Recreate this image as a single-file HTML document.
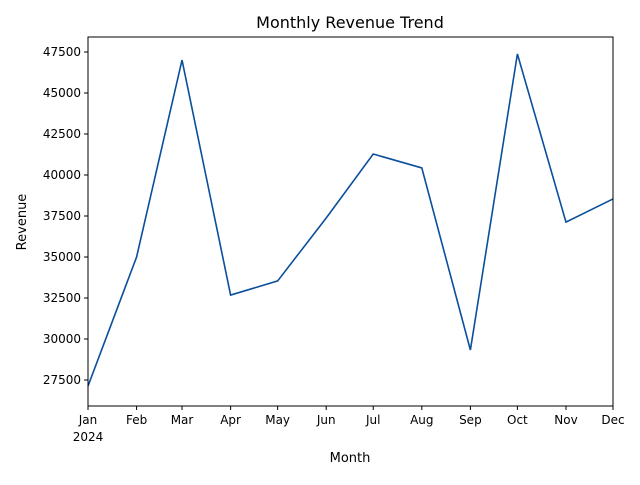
<!DOCTYPE html>
<html><head><meta charset="utf-8"><style>
body{margin:0;background:#fff;}
svg text{font-family:"DejaVu Sans","Liberation Sans",sans-serif;fill:#000;}
</style></head><body>
<svg width="640" height="480" viewBox="0 0 640 480" xmlns="http://www.w3.org/2000/svg">
<rect width="640" height="480" fill="#fff"/>
<text x="350" y="28" font-size="16" text-anchor="middle">Monthly Revenue Trend</text>
<g id="axes"></g>
<rect x="88" y="37" width="525" height="369" fill="none" stroke="#000" stroke-width="1"/>
<text x="350" y="462" font-size="13" text-anchor="middle">Month</text>
<text x="0" y="0" font-size="13" text-anchor="middle" transform="translate(26,222) rotate(-90)">Revenue</text>
</svg>
<script>
const months=["Jan","Feb","Mar","Apr","May","Jun","Jul","Aug","Sep","Oct","Nov","Dec"];
const dayOfYear=[0,31,60,91,121,152,182,213,244,274,305,335];
const revenue=[27130,35000,47010,32680,33540,37380,41280,40430,29330,47380,37130,38540];
const yTicks=[27500,30000,32500,35000,37500,40000,42500,45000,47500];
const L=88,R=613,T=37,B=406;
const ymin=25915,ymax=48415;
const xs=d=>L+(d-dayOfYear[0])/(dayOfYear[dayOfYear.length-1]-dayOfYear[0])*(R-L);
const ys=v=>B-(v-ymin)/(ymax-ymin)*(B-T);
const NS="http://www.w3.org/2000/svg";
const g=document.getElementById('axes');
function mk(t,a){const e=document.createElementNS(NS,t);for(const k in a)e.setAttribute(k,a[k]);g.appendChild(e);return e;}
yTicks.forEach(v=>{const y=ys(v);
const t=mk('line',{x1:L-4,x2:L,y1:y,y2:y,stroke:'#000'});


const tx=mk('text',{x:L-7,y:y+4,'font-size':12,'text-anchor':'end'});tx.textContent=v;

});
months.forEach((m,i)=>{const x=xs(dayOfYear[i]);
const t=mk('line',{x1:x,x2:x,y1:B,y2:B+4,stroke:'#000'});


const tx=mk('text',{x:x,y:B+18,'font-size':12,'text-anchor':'middle'});tx.textContent=m;

});
const yr=mk('text',{x:L,y:B+35,'font-size':12,'text-anchor':'middle'});yr.textContent='2024';


const pts=revenue.map((v,i)=>xs(dayOfYear[i])+','+ys(v)).join(' ');
const pl=mk('polyline',{points:pts,fill:'none',stroke:'#0b4f9c','stroke-width':1.6});


</script>
</body></html>
